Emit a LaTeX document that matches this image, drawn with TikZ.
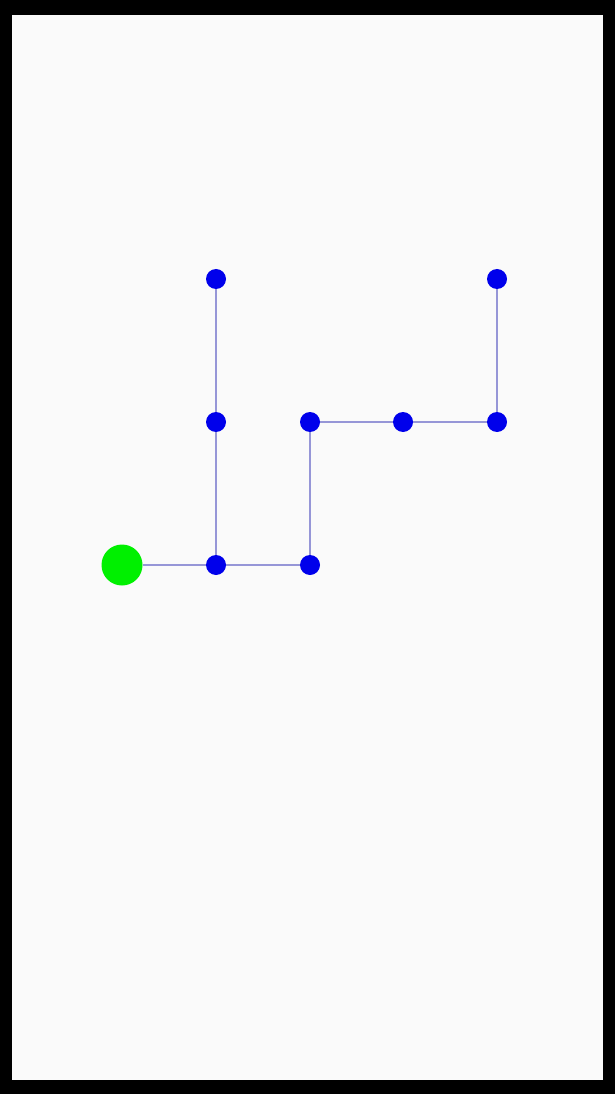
\documentclass[tikz,border=0pt]{standalone}
\usepackage{xcolor}
\usepackage{tikz}

\definecolor{bgpaper}{RGB}{250,250,250}
\definecolor{dotblue}{RGB}{0,0,235}
\definecolor{dotgreen}{RGB}{0,240,0}
\definecolor{linkblue}{RGB}{150,150,215}

\begin{document}
\begin{tikzpicture}[x=0.02cm,y=-0.02cm,
  dot/.style={circle,fill=dotblue,inner sep=0pt,minimum size=20*0.02cm},
  start/.style={circle,fill=dotgreen,inner sep=0pt,minimum size=41*0.02cm},
  link/.style={linkblue,line width=0.6pt}]
\fill[black] (0,0) rectangle (615,1094);
\fill[bgpaper] (12,15) rectangle (603,1080);

\node[start] (s) at (122,565) {};
\node[dot] (a) at (216,565) {};
\node[dot] (b) at (310,565) {};
\node[dot] (c) at (216,422) {};
\node[dot] (d) at (216,279) {};
\node[dot] (e) at (310,422) {};
\node[dot] (f) at (403,422) {};
\node[dot] (g) at (497,422) {};
\node[dot] (h) at (497,279) {};

\draw[link] (s)--(a);
\draw[link] (a)--(b);
\draw[link] (a)--(c);
\draw[link] (c)--(d);
\draw[link] (b)--(e);
\draw[link] (e)--(f);
\draw[link] (f)--(g);
\draw[link] (g)--(h);
\end{tikzpicture}
\end{document}
